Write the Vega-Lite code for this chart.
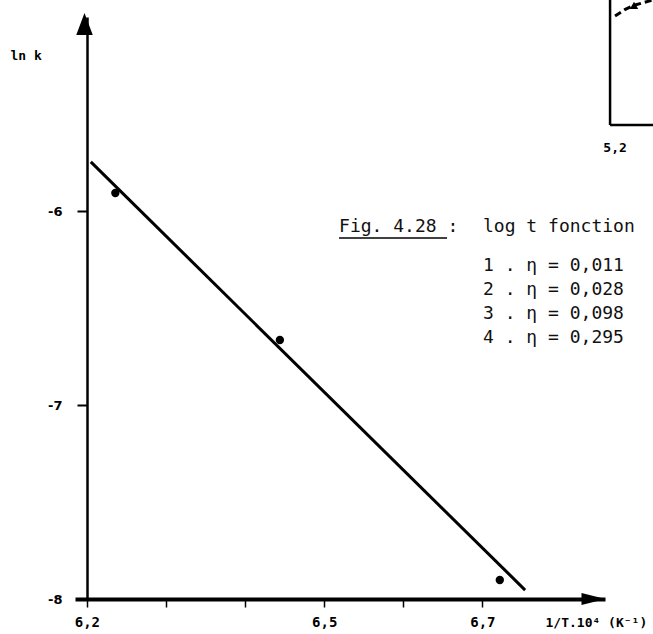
{
  "$schema": "https://vega.github.io/schema/vega-lite/v6.json",
  "width": 530,
  "height": 582,
  "autosize": {"type": "none"},
  "padding": {"left": 75, "top": 17, "right": 48, "bottom": 35},
  "background": "white",
  "config": {"view": {"stroke": null}, "axis": {"grid": false}},
  "datasets": {
    "points": [
      {"x": 6.236, "y": -5.907},
      {"x": 6.444, "y": -6.665},
      {"x": 6.722, "y": -7.902}
    ],
    "fit": [
      {"x": 6.205, "y": -5.747},
      {"x": 6.754, "y": -7.954}
    ],
    "xarrow": [{"x": 6.8405, "y": -8}],
    "yarrow": [{"x": 6.197, "y": -5.036}],
    "frame": [
      {"x": 6.8614, "y": -4.89, "x2": 6.8614, "y2": -5.557},
      {"x": 6.8614, "y": -5.557, "x2": 6.93, "y2": -5.557}
    ],
    "curve": [
      {"x": 6.8677, "y": -4.995},
      {"x": 6.88, "y": -4.962},
      {"x": 6.8917, "y": -4.94},
      {"x": 6.9157, "y": -4.912},
      {"x": 6.93, "y": -4.9}
    ],
    "marker": [{"x": 6.8917, "y": -4.94}],
    "caption": [
      {"x": 6.5188, "y": -6.082, "label": "Fig. 4.28 :"},
      {"x": 6.7008, "y": -6.082, "label": "log t fonction"},
      {"x": 6.7008, "y": -6.2835, "label": "1 .  η = 0,011"},
      {"x": 6.7008, "y": -6.407, "label": "2 .  η = 0,028"},
      {"x": 6.7008, "y": -6.531, "label": "3 .  η = 0,098"},
      {"x": 6.7008, "y": -6.655, "label": "4 .  η = 0,295"}
    ],
    "underline": [{"x": 6.5188, "x2": 6.6553, "y": -6.139}],
    "sidelabel": [{"x": 6.8677, "y": -5.675, "label": "5,2"}]
  },
  "encoding": {
    "x": {
      "field": "x",
      "type": "quantitative",
      "scale": {"domain": [6.185, 6.855], "nice": false, "zero": false},
      "axis": {
        "values": [6.2, 6.3, 6.4, 6.5, 6.6, 6.7],
        "labelExpr": "indexof(['6.2','6.5','6.7'], format(datum.value,'.1f')) >= 0 ? replace(format(datum.value,'.1f'),'.',',') : ''",
        "domainColor": "black",
        "domainWidth": 4,
        "tickColor": "black",
        "tickWidth": 1.5,
        "tickSize": 8,
        "labelFont": "DejaVu Sans Mono",
        "labelFontSize": 14,
        "labelFontWeight": "bold",
        "labelColor": "black",
        "labelPadding": 8,
        "labelFlush": false,
        "labelOverlap": false,
        "title": "1/T.10⁴ (K⁻¹)",
        "titleFont": "DejaVu Sans Mono",
        "titleFontSize": 13,
        "titleFontWeight": "bold",
        "titleColor": "black",
        "titleX": 470,
        "titleY": 23,
        "titleAlign": "left",
        "titleBaseline": "middle"
      }
    },
    "y": {
      "field": "y",
      "type": "quantitative",
      "scale": {"domain": [-8, -5], "nice": false, "zero": false},
      "axis": {
        "values": [-8, -7, -6],
        "offset": -12,
        "labelExpr": "'-' + format(abs(datum.value),'d')",
        "domainColor": "black",
        "domainWidth": 2.5,
        "tickColor": "black",
        "tickWidth": 2,
        "tickSize": 10,
        "labelFont": "DejaVu Sans",
        "labelFontSize": 13,
        "labelFontWeight": "bold",
        "labelColor": "black",
        "labelPadding": 15,
        "title": "ln k",
        "titleAngle": 0,
        "titleX": -77,
        "titleY": 38,
        "titleAlign": "left",
        "titleBaseline": "middle",
        "titleFont": "DejaVu Sans Mono",
        "titleFontSize": 13,
        "titleFontWeight": "bold",
        "titleColor": "black"
      }
    }
  },
  "layer": [
    {
      "data": {"name": "fit"},
      "mark": {"type": "line", "color": "black", "strokeWidth": 3}
    },
    {
      "data": {"name": "points"},
      "mark": {"type": "point", "filled": true, "color": "black", "size": 70, "opacity": 1}
    },
    {
      "data": {"name": "xarrow"},
      "mark": {"type": "point", "shape": "M-1,-0.5L1,0L-1,0.5Z", "size": 576, "filled": true, "color": "black", "opacity": 1}
    },
    {
      "data": {"name": "yarrow"},
      "mark": {"type": "point", "shape": "M0,-1L0.75,1L-0.75,1Z", "size": 484, "filled": true, "color": "black", "opacity": 1}
    },
    {
      "data": {"name": "frame"},
      "mark": {"type": "rule", "color": "black", "strokeWidth": 2.5},
      "encoding": {"x2": {"field": "x2"}, "y2": {"field": "y2"}}
    },
    {
      "data": {"name": "curve"},
      "mark": {"type": "line", "color": "black", "strokeWidth": 3, "strokeDash": [7, 4]}
    },
    {
      "data": {"name": "marker"},
      "mark": {"type": "point", "shape": "triangle-up", "size": 70, "filled": true, "color": "black", "opacity": 1}
    },
    {
      "data": {"name": "caption"},
      "mark": {"type": "text", "align": "left", "baseline": "middle", "font": "DejaVu Sans Mono", "fontSize": 18, "color": "#111"},
      "encoding": {"text": {"field": "label"}}
    },
    {
      "data": {"name": "underline"},
      "mark": {"type": "rule", "color": "black", "strokeWidth": 1.5},
      "encoding": {"x2": {"field": "x2"}}
    },
    {
      "data": {"name": "sidelabel"},
      "mark": {"type": "text", "align": "center", "baseline": "middle", "font": "DejaVu Sans Mono", "fontSize": 13, "fontWeight": "bold", "color": "black"},
      "encoding": {"text": {"field": "label"}}
    }
  ]
}
